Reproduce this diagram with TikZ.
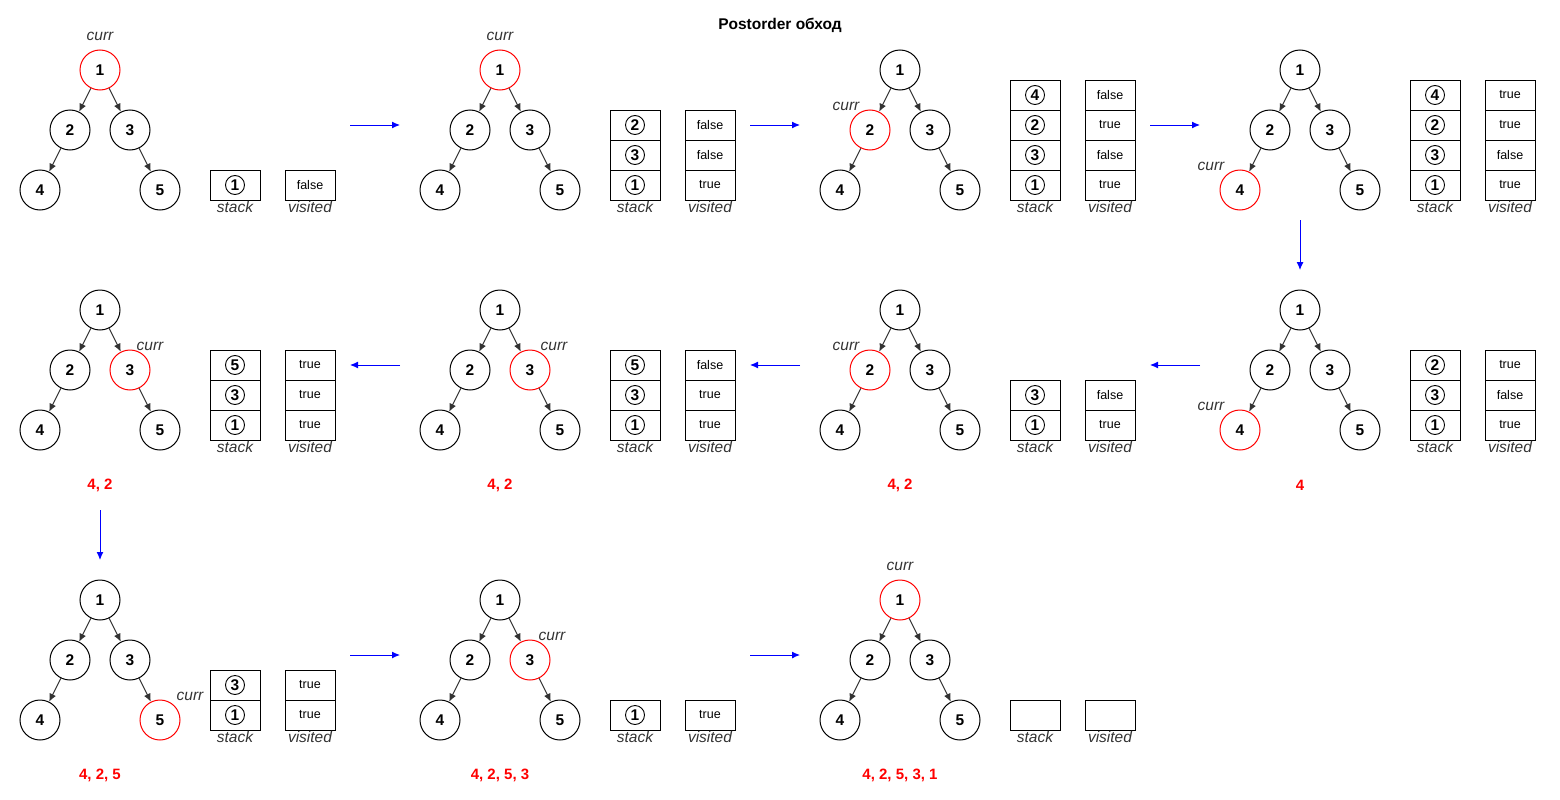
\documentclass[tikz,border=0pt]{standalone}
\usepackage{fontspec}
\setmainfont{Liberation Sans}
\usetikzlibrary{arrows.meta, positioning}

\begin{document}
\begin{tikzpicture}[x=1pt,y=-1pt,>={Latex[length=8pt,width=7pt]},line width=1pt,
    vertex/.style={circle,draw,minimum size=40pt,inner sep=0pt,font=\fontsize{15.5}{17}\selectfont\bfseries},
    edge/.style={->,draw=black!80},
    cell/.style={draw,minimum width=50pt,minimum height=30pt,inner sep=0pt},
    item/.style={circle,draw,minimum size=19pt,inner sep=0pt,line width=0.9pt,font=\fontsize{15.5}{17}\selectfont\bfseries},
    flag/.style={font=\fontsize{12.5}{14}\selectfont},
    lbl/.style={inner sep=0pt,text=black!80,font=\fontsize{15.5}{17}\selectfont\itshape},
    result/.style={text=red,font=\fontsize{15}{17}\selectfont\bfseries},
    flow/.style={->,blue}]
    \useasboundingbox (0,0) rectangle (1560,800);

    % title
    \node[font=\fontsize{15.5}{17}\selectfont\bfseries] (title) at (780,25) {Postorder обход};

    % trees, current node in red
    \foreach \p/\ox/\oy/\cur/\dx/\dy in {a/0/0/1/0/-35, b/400/0/1/0/-35, c/800/0/2/-24/-25,
        d/1200/0/4/-29/-25, e/0/240/3/20/-25, f/400/240/3/24/-25, g/800/240/2/-24/-25,
        h/1200/240/4/-29/-25, i/0/530/5/30/-25, j/400/530/3/22/-25, k/800/530/1/0/-35}
    {
        \foreach \k/\x/\y in {1/100/70, 2/70/130, 3/130/130, 4/40/190, 5/160/190}{
            \ifnum\k=\cur \def\col{red}\else\def\col{black}\fi
            \node[vertex,draw=\col] (\p\k) at (\ox+\x,\oy+\y) {\k};
        }
        \draw[edge] (\p1) -- (\p2);
        \draw[edge] (\p1) -- (\p3);
        \draw[edge] (\p2) -- (\p4);
        \draw[edge] (\p3) -- (\p5);
        \node[lbl] (\p c) at ([shift={(\dx,\dy+1)}]\p\cur.center) {curr};
    }

    % stack and visited, listed from the bottom up
    \foreach \p/\ox/\oy/\st/\vi in {a/0/0/{1}/{false}, b/400/0/{1,3,2}/{true,false,false},
        c/800/0/{1,3,2,4}/{true,false,true,false}, d/1200/0/{1,3,2,4}/{true,false,true,true},
        e/0/240/{1,3,5}/{true,true,true}, f/400/240/{1,3,5}/{true,true,false},
        g/800/240/{1,3}/{true,false}, h/1200/240/{1,3,2}/{true,false,true},
        i/0/530/{1,3}/{true,true}, j/400/530/{1}/{true}}
    {
        \foreach \s [count=\i] in \st{
            \node[cell] (\p s\i) at (\ox+235,\oy+215-\i*30) {};
            \node[item] (\p n\i) at (\p s\i) {\s};
        }
        \foreach \v [count=\i] in \vi{
            \node[cell,flag] (\p v\i) at (\ox+310,\oy+215-\i*30) {\v};
        }
        \node[lbl,anchor=north] (\p st) at (\p s1.south) {stack};
        \node[lbl,anchor=north] (\p vl) at (\p v1.south) {visited};
    }

    % empty stack at the end
    \node[cell] (ks1) at (1035,715) {};
    \node[cell] (kv1) at (1110,715) {};
    \node[lbl,anchor=north] (kst) at (ks1.south) {stack};
    \node[lbl,anchor=north] (kvl) at (kv1.south) {visited};

    % output so far
    \node[result] (re) at (100,485) {4, 2};
    \node[result] (rf) at (500,485) {4, 2};
    \node[result] (rg) at (900,485) {4, 2};
    \node[result] (rh) at (1300,485) {4};
    \node[result] (ri) at (100,775) {4, 2, 5};
    \node[result] (rj) at (500,775) {4, 2, 5, 3};
    \node[result] (rk) at (900,775) {4, 2, 5, 3, 1};

    % steps
    \foreach \n/\x/\y/\u/\w in {1/350/125/400/125, 2/750/125/800/125, 3/1150/125/1200/125,
        4/1300/220/1300/270, 5/1200/365/1150/365, 6/800/365/750/365, 7/400/365/350/365,
        8/100/510/100/560, 9/350/655/400/655, 10/750/655/800/655}
    {
        \coordinate (from\n) at (\x,\y);
        \coordinate (to\n) at (\u,\w);
        \draw[flow] (from\n) -- (to\n);
    }
\end{tikzpicture}
\end{document}
